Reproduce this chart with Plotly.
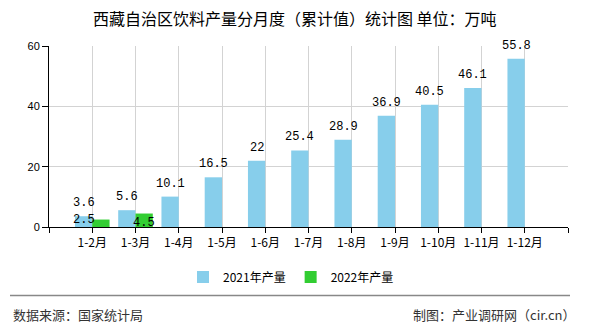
import plotly.graph_objects as go

# Monthly cumulative beverage output, Tibet (10k tonnes)
months = ["1-2月", "1-3月", "1-4月", "1-5月", "1-6月", "1-7月",
          "1-8月", "1-9月", "1-10月", "1-11月", "1-12月"]
output_2021 = [3.6, 5.6, 10.1, 16.5, 22, 25.4, 28.9, 36.9, 40.5, 46.1, 55.8]
output_2022 = [2.5, 4.5, None, None, None, None, None, None, None, None, None]
y_ticks = [0, 20, 40, 60]

W, H = 590, 330
L, R, T, B = 49, 22, 46, 101
PW, PH = W - L - R, H - T - B

idx = list(range(len(months)))
label_font = dict(family="Liberation Mono", size=12, color="#000")

fig = go.Figure()
fig.add_trace(go.Bar(
    x=idx, y=output_2021, name="2021年产量",
    marker=dict(color="#87CEEB", line=dict(width=0)),
    cliponaxis=False,
))
fig.add_trace(go.Bar(
    x=idx, y=output_2022, name="2022年产量",
    marker=dict(color="#32CD32", line=dict(width=0)),
    cliponaxis=False,
))

# value labels above the 2021 bars
for i, v in enumerate(output_2021):
    fig.add_annotation(
        x=i - 0.2, y=v, text=f"{v:g}", showarrow=False,
        xanchor="center", yanchor="middle", yshift=13, font=label_font,
    )

# value labels for the 2022 series
label_dx = [-0.2, 0.19]
label_dy = [0, -9]
for i, v in enumerate(output_2022):
    if v is None:
        continue
    fig.add_annotation(
        x=i + label_dx[i], y=v, text=f"{v:g}", showarrow=False,
        xanchor="center", yanchor="middle", yshift=label_dy[i], font=label_font,
    )

tickvals = [-1] + idx + [len(months)]
ticktext = [""] + months + [""]

fig.update_layout(
    width=W, height=H,
    margin=dict(l=L, r=R, t=T, b=B),
    paper_bgcolor="white", plot_bgcolor="white",
    barmode="group", bargap=0.2, bargroupgap=0,
    font=dict(family="Noto Sans CJK SC", size=12, color="#000"),
    showlegend=True,
    legend=dict(
        orientation="h", xref="container", yref="container",
        x=291 / W, y=1 - 277 / H, xanchor="center", yanchor="middle",
        font=dict(family="Noto Sans CJK SC", size=12, color="#000"),
        itemwidth=30, traceorder="normal",
    ),
    xaxis=dict(
        range=[-1, len(months)], tickmode="array",
        tickvals=tickvals, ticktext=ticktext,
        showgrid=True, gridcolor="#d3d3d3", gridwidth=1,
        showline=True, linecolor="#000", linewidth=1,
        ticks="outside", ticklen=5, tickcolor="#000",
        tickfont=dict(family="Noto Sans CJK SC", size=12, color="#000"),
        zeroline=False,
    ),
    yaxis=dict(
        range=[0, 60], tickmode="array", tickvals=y_ticks,
        showgrid=True, gridcolor="#d3d3d3", gridwidth=1,
        showline=True, linecolor="#000", linewidth=1,
        ticks="outside", ticklen=6, tickcolor="#000",
        tickfont=dict(family="Liberation Sans", size=11, color="#000"),
        zeroline=False,
    ),
)

# title
fig.add_annotation(
    xref="paper", yref="paper", x=(294.5 - L) / PW, y=1 + (T - 18) / PH,
    text="西藏自治区饮料产量分月度（累计值）统计图 单位：万吨", showarrow=False,
    xanchor="center", yanchor="middle",
    font=dict(family="Noto Sans CJK SC", size=16, color="#000"),
)

# footer rule and credits
fy = -(298 - (H - B)) / PH
fig.add_shape(
    type="line", xref="paper", yref="paper",
    x0=(10 - L) / PW, x1=(570 - L) / PW, y0=fy, y1=fy,
    line=dict(color="#888", width=1.5),
)
fig.add_annotation(
    xref="paper", yref="paper", x=(11 - L) / PW, y=-(317 - (H - B)) / PH,
    text="数据来源：国家统计局", showarrow=False, xanchor="left", yanchor="middle",
    font=dict(family="Noto Sans CJK SC", size=13, color="#333"),
)
fig.add_annotation(
    xref="paper", yref="paper", x=(577 - L) / PW, y=-(317 - (H - B)) / PH,
    text="制图：产业调研网（cir.cn）", showarrow=False, xanchor="right", yanchor="middle",
    font=dict(family="Noto Sans CJK SC", size=13, color="#333"),
)

fig.write_html("out.html")
